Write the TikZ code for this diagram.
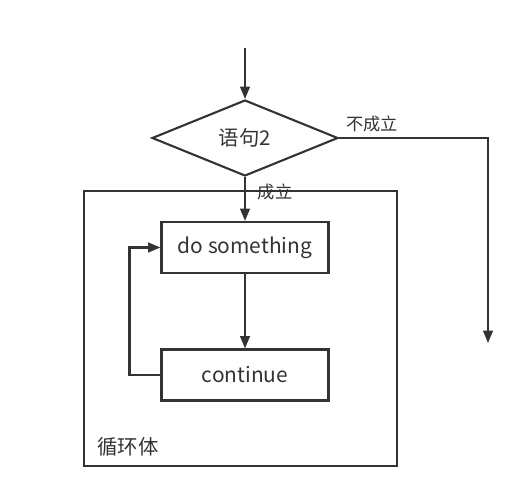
\documentclass[tikz,border=0pt]{standalone}
\usepackage{fontspec}
\setmainfont{Noto Sans CJK SC}
\usetikzlibrary{shapes.geometric,arrows.meta}
\definecolor{ink}{HTML}{333333}
\begin{document}
\begin{tikzpicture}[x=0.02cm, y=-0.02cm, line width=1.2pt, draw=ink, text=ink,
    arr/.style={-{Triangle[length=7pt,width=5.5pt]}},
    box/.style={draw, minimum width=3.34cm, minimum height=1.02cm, inner sep=0pt, font=\fontsize{11.9}{13}\selectfont}]
            \useasboundingbox (0,0) rectangle (519,499);
            \node[draw, minimum width=6.26cm, minimum height=5.5cm] (body) at (240.5,328.5) {};
            \node[draw, diamond, minimum width=3.72cm, minimum height=1.52cm, inner sep=0pt, font=\fontsize{11.6}{13}\selectfont] (cond) at (245,138) {语句2};
            \node[box] (dosth) at (245,247.5) {do something};
            \node[box] (cont) at (245,375) {continue};
            \node[font=\fontsize{9.8}{11}\selectfont] (no) at (372,124) {不成立};
            \node[font=\fontsize{9.8}{11}\selectfont] (yes) at (275,192) {成立};
            \node[font=\fontsize{11.6}{13}\selectfont] (loop) at (128,447) {循环体};
            \coordinate (start) at (245,48);
            \coordinate (exit) at (488,343);
            \draw[arr] (start) -- (cond.north);
            \draw[arr] (cond.east) -| (exit);
            \draw[arr] (cond.south) -- (dosth.north);
            \draw[arr] (dosth) -- (cont);
            \draw[arr] (cont.west) -- ++(-31,0) |- (dosth.west);
        \end{tikzpicture}
\end{document}
